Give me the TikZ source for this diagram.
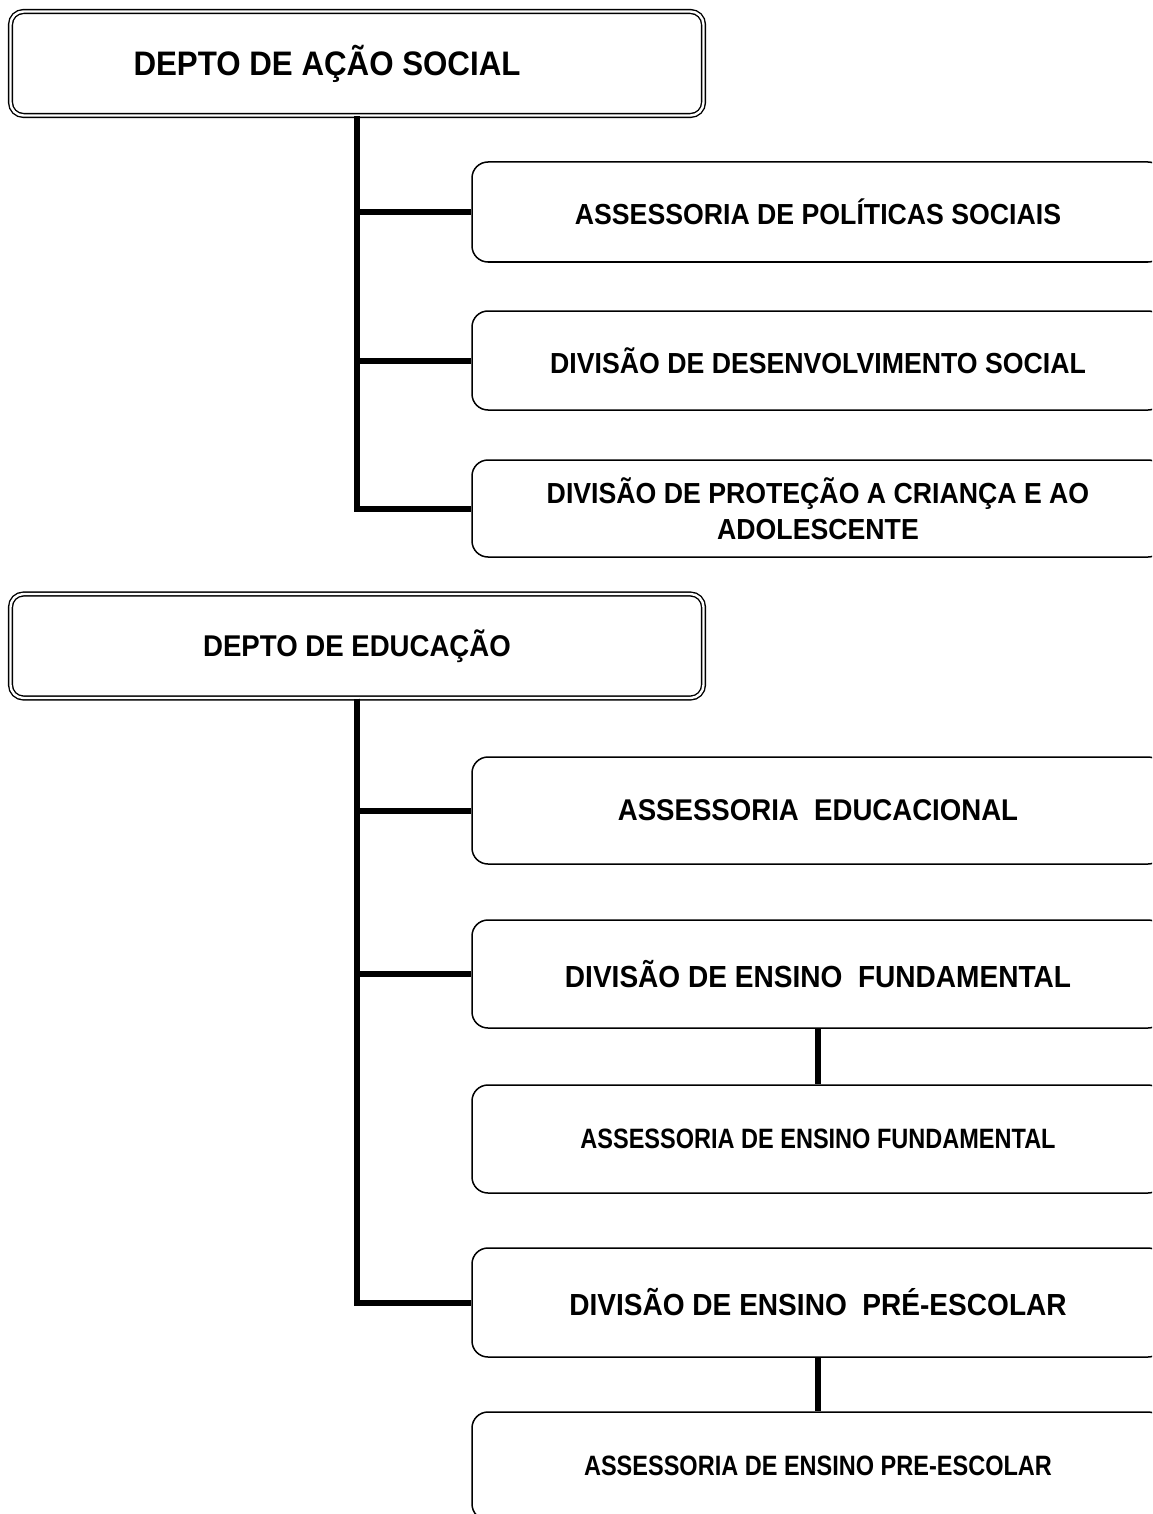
\documentclass[tikz,border=0pt]{standalone}
\usepackage{fontspec}
\setmainfont{Liberation Sans}[FakeStretch=0.92]
\newfontfamily\narrowfont{Liberation Sans}[FakeStretch=0.84]

\begin{document}
\begin{tikzpicture}[x=1pt,y=1pt]
    \tikzstyle{every node}=[font=\bfseries]
    \tikzstyle{depto}=[draw, double, double distance=2.4pt, line width=1.4pt,
      rounded corners=13pt, minimum width=693pt, minimum height=104pt, inner sep=0pt]
    \tikzstyle{divbox}=[draw, line width=1.5pt, rounded corners=16pt, minimum width=692pt,
      align=center, inner sep=0pt, font=\bfseries\fontsize{29}{36}\selectfont]
    \tikzstyle{bigdiv}=[divbox, font=\bfseries\fontsize{30.5}{36}\selectfont]
    \tikzstyle{assbox}=[divbox, minimum height=108pt,
      font=\narrowfont\bfseries\fontsize{28}{34}\selectfont]
    \tikzstyle{conn}=[line width=6pt]

    \useasboundingbox (0,0) rectangle (1152,-1514);
    \clip (0,0) rectangle (1152,-1514);

    % depto de acao social
    \node[depto, font=\bfseries\fontsize{34}{40}\selectfont] (acao) at (357,-63.5)
      {DEPTO DE AÇÃO SOCIAL\hspace*{60pt}};
    \node[divbox, minimum height=100pt] (politicas) at (818,-212)
      {ASSESSORIA DE POLÍTICAS SOCIAIS};
    \node[divbox, minimum height=99pt] (desenv) at (818,-360.5)
      {DIVISÃO DE DESENVOLVIMENTO SOCIAL};
    \node[divbox, minimum height=97pt] (protecao) at (818,-508.5)
      {DIVISÃO DE PROTEÇÃO A CRIANÇA E AO\\ADOLESCENTE};

    \draw[conn] (acao.south) |- (politicas.west);
    \draw[conn] (acao.south) |- (desenv.west);
    \draw[conn] (acao.south) |- (protecao.west);

    % depto de educacao
    \node[depto, font=\bfseries\fontsize{30}{36}\selectfont] (educacao) at (357,-646)
      {DEPTO DE EDUCAÇÃO};
    \node[bigdiv, minimum height=107pt, font=\bfseries\fontsize{30}{36}\selectfont] (assedu) at (818,-810.5)
      {ASSESSORIA\ \ EDUCACIONAL};
    \node[bigdiv, minimum height=108pt] (fundam) at (818,-974)
      {DIVISÃO DE ENSINO\ \ FUNDAMENTAL};
    \node[assbox] (assfund) at (818,-1139)
      {ASSESSORIA DE ENSINO FUNDAMENTAL};
    \node[bigdiv, minimum height=109pt] (preesc) at (818,-1302.5)
      {DIVISÃO DE ENSINO\ \ PRÉ-ESCOLAR};
    \node[assbox] (asspre) at (818,-1466)
      {ASSESSORIA DE ENSINO PRE-ESCOLAR};

    \draw[conn] (educacao.south) |- (assedu.west);
    \draw[conn] (educacao.south) |- (fundam.west);
    \draw[conn] (educacao.south) |- (preesc.west);

    % ligacoes das assessorias
    \draw[conn] (fundam.south) -- (assfund.north);
    \draw[conn] (preesc.south) -- (asspre.north);

\end{tikzpicture}
\end{document}
